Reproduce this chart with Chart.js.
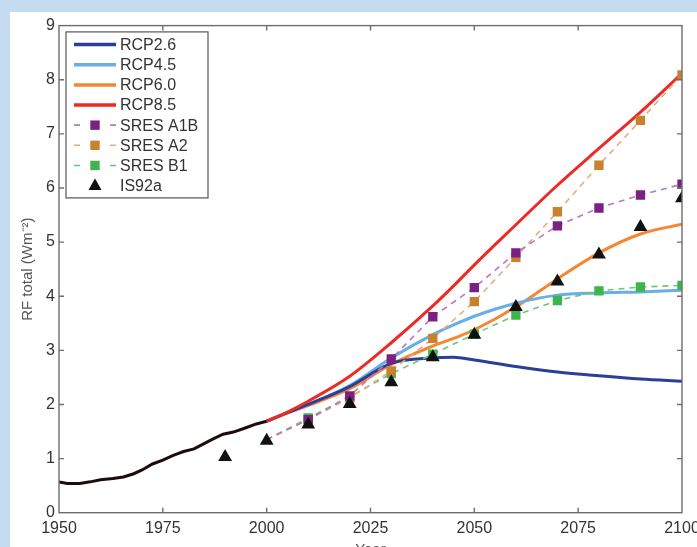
<!DOCTYPE html>
<html>
<head>
<meta charset="utf-8">
<script src="https://cdn.jsdelivr.net/npm/chart.js@4"></script>
<style>
  html, body { margin: 0; padding: 0; overflow: hidden; background: #c5dcf0; }
  .panel { position: absolute; left: 10px; top: 12px; width: 687px; height: 545px; background: #fff; }
</style>
</head>
<body>
<div class="panel"><canvas id="rf_chart" width="687" height="545"></canvas></div>
<script>
//! Data
const histYears = [1950, 1952, 1955, 1957.5, 1960, 1963, 1965.5, 1968, 1970, 1972.5, 1975, 1977.5, 1980, 1982.5, 1984, 1987, 1989.5, 1992, 1995, 1997.5, 2000];
const histRf = [0.57, 0.54, 0.54, 0.57, 0.61, 0.63, 0.66, 0.72, 0.79, 0.9, 0.97, 1.06, 1.13, 1.18, 1.24, 1.36, 1.45, 1.49, 1.57, 1.64, 1.69];

const rcpYears = [2000, 2005, 2010, 2020, 2030, 2040, 2045, 2050, 2060, 2070, 2080, 2090, 2100];
const rcp26 = [1.69, 1.85, 2.0, 2.33, 2.76, 2.86, 2.87, 2.82, 2.7, 2.6, 2.53, 2.47, 2.43];
const rcp45 = [1.69, 1.85, 2.0, 2.35, 2.86, 3.29, 3.47, 3.63, 3.87, 4.02, 4.06, 4.08, 4.11];
const rcp60 = [1.69, 1.84, 1.98, 2.29, 2.74, 3.08, 3.22, 3.38, 3.8, 4.32, 4.8, 5.15, 5.33];
const rcp85 = [1.69, 1.86, 2.06, 2.52, 3.14, 3.82, 4.19, 4.58, 5.32, 6.05, 6.73, 7.4, 8.12];

const sresYears = [2000, 2010, 2020, 2030, 2040, 2050, 2060, 2070, 2080, 2090, 2100];
const sresA1B = [1.35, 1.72, 2.16, 2.84, 3.62, 4.16, 4.8, 5.3, 5.63, 5.87, 6.07];
const sresA2 = [1.35, 1.72, 2.12, 2.62, 3.22, 3.9, 4.72, 5.56, 6.42, 7.25, 8.09];
const sresB1 = [1.35, 1.75, 2.14, 2.57, 2.93, 3.3, 3.65, 3.92, 4.1, 4.17, 4.2];

const is92Years = [1990, 2000, 2010, 2020, 2030, 2040, 2050, 2060, 2070, 2080, 2090, 2100];
const is92a = [1.03, 1.33, 1.63, 2.01, 2.41, 2.87, 3.29, 3.8, 4.27, 4.77, 5.28, 5.81];

const xTicks = [1950, 1975, 2000, 2025, 2050, 2075, 2100];
const yTicks = [0, 1, 2, 3, 4, 5, 6, 7, 8, 9];

const toPoints = (xs, ys) => xs.map((x, i) => ({ x: x, y: ys[i] }));

//! Datasets (legend order, draw order via "order")
const rcpLine = (label, years, values, color, order) => ({
  label: label,
  data: toPoints(years, values),
  borderColor: color,
  backgroundColor: color,
  borderWidth: 3,
  pointRadius: 0,
  cubicInterpolationMode: "monotone",
  order: order,
  legendKind: "line",
});

const sresLine = (label, values, markColor, dashColor, order) => ({
  label: label,
  data: toPoints(sresYears, values),
  borderColor: dashColor,
  borderWidth: 1.6,
  borderDash: [6, 5],
  pointStyle: "rect",
  pointRadius: values.map((v, i) => (i === 0 ? 0 : 6.6)),
  pointBackgroundColor: markColor,
  pointBorderWidth: 0,
  order: order,
  legendKind: "dash",
  markColor: markColor,
});

const datasets = [
  rcpLine("RCP2.6", rcpYears, rcp26, "#2c3e98", 7),
  rcpLine("RCP4.5", rcpYears, rcp45, "#6aaee6", 8),
  rcpLine("RCP6.0", rcpYears, rcp60, "#f58634", 9),
  rcpLine("RCP8.5", rcpYears, rcp85, "#ee2a24", 6),
  sresLine("SRES A1B", sresA1B, "#7b2182", "#b779bd", 3),
  sresLine("SRES A2", sresA2, "#c9812d", "#e5ad7c", 4),
  sresLine("SRES B1", sresB1, "#3db54a", "#6fc677", 5),
  {
    label: "IS92a",
    data: toPoints(is92Years, is92a),
    showLine: false,
    pointStyle: "triangle",
    pointRadius: 8,
    pointBackgroundColor: "#111",
    pointBorderWidth: 0,
    order: 1,
    legendKind: "triangle",
  },
  {
    label: "",
    data: toPoints(histYears, histRf),
    borderColor: "#1e0c0c",
    borderWidth: 3,
    pointRadius: 0,
    order: 2,
  },
];

//! Frame with inward ticks
const frameTicks = {
  id: "frameTicks",
  afterDatasetsDraw(chart) {
    const { ctx, chartArea: a, scales } = chart;
    const len = 5;
    ctx.save();
    ctx.strokeStyle = "#6d6d6d";
    ctx.lineWidth = 1.4;
    ctx.strokeRect(a.left, a.top, a.right - a.left, a.bottom - a.top);
    ctx.beginPath();
    xTicks.slice(1, -1).forEach((t) => {
      let px = scales.x.getPixelForValue(t);
      ctx.moveTo(px, a.bottom);
      ctx.lineTo(px, a.bottom - len);
      ctx.moveTo(px, a.top);
      ctx.lineTo(px, a.top + len);
    });
    yTicks.slice(1, -1).forEach((t) => {
      let py = scales.y.getPixelForValue(t);
      ctx.moveTo(a.left, py);
      ctx.lineTo(a.left + len, py);
      ctx.moveTo(a.right, py);
      ctx.lineTo(a.right - len, py);
    });
    ctx.stroke();
    ctx.restore();
  },
};

//! Legend box inside plot
const insideLegend = {
  id: "insideLegend",
  afterDraw(chart) {
    const { ctx, chartArea: a } = chart;
    const items = chart.data.datasets.filter((d) => d.label);
    const left = a.left + 7;
    const top = a.top + 6.3;
    const rowH = 20.14;
    ctx.save();
    ctx.fillStyle = "#fff";
    ctx.fillRect(left, top, 142, 166);
    ctx.strokeStyle = "#555";
    ctx.lineWidth = 1.2;
    ctx.strokeRect(left, top, 142, 166);
    items.forEach((d, i) => {
      let y = top + 12.7 + i * rowH;
      let x0 = left + 8;
      let x1 = left + 50;
      let xm = (x0 + x1) / 2;
      if (d.legendKind === "line") {
        ctx.strokeStyle = d.borderColor;
        ctx.lineWidth = 3.5;
        ctx.setLineDash([]);
        ctx.beginPath();
        ctx.moveTo(x0, y);
        ctx.lineTo(x1, y);
        ctx.stroke();
      } else if (d.legendKind === "dash") {
        ctx.strokeStyle = d.borderColor;
        ctx.lineWidth = 1.6;
        ctx.setLineDash([6, 30]);
        ctx.beginPath();
        ctx.moveTo(x0, y);
        ctx.lineTo(x1, y);
        ctx.stroke();
        ctx.setLineDash([]);
        ctx.fillStyle = d.markColor;
        ctx.fillRect(xm - 4.7, y - 4.7, 9.4, 9.4);
      } else {
        ctx.fillStyle = "#111";
        ctx.beginPath();
        ctx.moveTo(xm, y - 7);
        ctx.lineTo(xm + 6.5, y + 4.5);
        ctx.lineTo(xm - 6.5, y + 4.5);
        ctx.closePath();
        ctx.fill();
      }
      ctx.fillStyle = "#333";
      ctx.font = "16px 'Liberation Sans', Arial, sans-serif";
      ctx.textBaseline = "middle";
      ctx.textAlign = "left";
      ctx.fillText(d.label, left + 54, y + 1);
    });
    ctx.restore();
  },
};

//! Chart
const ctx = document.getElementById("rf_chart");
new Chart(ctx, {
  type: "line",
  data: { datasets: datasets },
  options: {
    responsive: false,
    animation: false,
    events: [],
    layout: {
      padding: { top: 10.7, right: 15, left: 0, bottom: 0 },
    },
    plugins: {
      legend: { display: false },
      tooltip: { enabled: false },
    },
    scales: {
      x: {
        type: "linear",
        min: 1950,
        max: 2100,
        afterBuildTicks: (scale) => {
          scale.ticks = xTicks.map((v) => ({ value: v }));
        },
        afterFit: (scale) => {
          scale.height = 44.3;
          scale.paddingLeft = 0;
          scale.paddingRight = 0;
        },
        grid: { display: false, drawTicks: false },
        border: { display: false },
        ticks: {
          padding: 6,
          color: "#333",
          maxRotation: 0,
          autoSkip: false,
          callback: (v) => String(v),
          font: { family: "'Liberation Sans', Arial, sans-serif", size: 16 },
        },
        title: {
          display: true,
          text: "Year",
          color: "#555",
          padding: { top: 2.5, bottom: 0 },
          font: { family: "'Liberation Sans', Arial, sans-serif", size: 15, lineHeight: 1 },
        },
      },
      y: {
        type: "linear",
        min: 0,
        max: 9,
        afterBuildTicks: (scale) => {
          scale.ticks = yTicks.map((v) => ({ value: v }));
        },
        afterFit: (scale) => {
          scale.width = 49;
        },
        grid: { display: false, drawTicks: false },
        border: { display: false },
        ticks: {
          padding: 4,
          color: "#333",
          font: { family: "'Liberation Sans', Arial, sans-serif", size: 16 },
        },
        title: {
          display: true,
          text: "RF total (Wm⁻²)",
          color: "#555",
          padding: { top: 10.5, bottom: 0 },
          font: { family: "'Liberation Sans', Arial, sans-serif", size: 15, lineHeight: 1 },
        },
      },
    },
  },
  plugins: [frameTicks, insideLegend],
});
</script>
</body>
</html>
